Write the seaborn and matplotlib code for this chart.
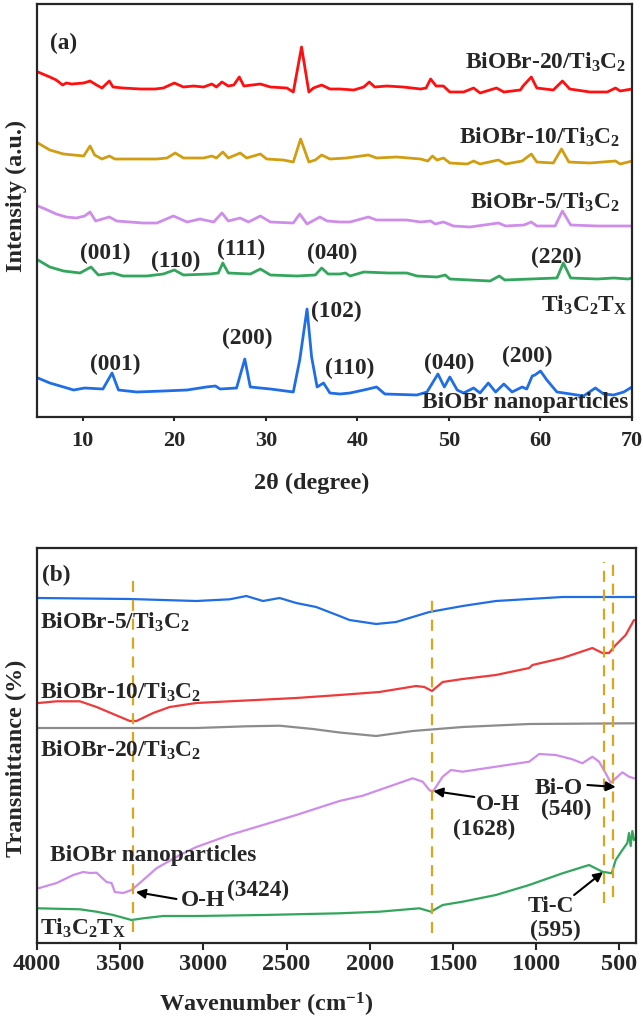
import matplotlib
matplotlib.use("Agg")
import numpy as np
import pandas as pd
import seaborn as sns
import matplotlib.pyplot as plt

# ---------------- XRD data (2theta in degree, intensity in a.u.) ----------------
xrd20_x = [5.1, 6.4, 7.1, 7.8, 8.2, 8.8, 10.1, 10.8, 11.5, 12.1, 12.9, 13.3, 14.4, 16.3, 17.9, 18.8,
           20.0, 21.0, 22.1, 23.2, 24.1, 24.6, 25.2, 25.9, 26.5, 27.1, 27.6, 29.4, 30.5, 32.3, 33.0,
           33.9, 34.7, 35.2, 36.1, 37.0, 38.1, 39.6, 40.7, 41.3, 41.9, 43.2, 45.0, 46.9, 47.5, 48.0,
           48.6, 49.4, 50.1, 51.6, 52.7, 53.4, 55.2, 56.0, 57.8, 58.1, 59.0, 59.6, 61.4, 62.4, 63.2,
           65.4, 67.3, 68.2, 68.7, 70.0]
xrd20_y = [345, 340, 337, 332, 334, 333, 334, 336, 332, 329, 336, 330, 329, 328, 328, 329,
           334, 330, 331, 330, 333, 330, 335, 331, 332, 340, 331, 333, 330, 329, 325,
           370, 325, 329, 332, 328, 328, 327, 330, 335, 330, 331, 330, 328, 329, 338,
           331, 331, 325, 325, 329, 324, 329, 325, 327, 331, 340, 329, 327, 336, 328,
           325, 325, 329, 326, 328]

xrd10_x = [5.1, 6.4, 7.9, 10.1, 10.8, 11.3, 12.1, 12.9, 13.5, 15.2, 18.1, 19.2, 20.1, 21.0, 23.2,
           24.1, 24.6, 25.3, 25.9, 27.2, 27.9, 29.4, 30.1, 31.9, 33.0, 33.8, 34.7, 35.4, 36.1, 37.0,
           38.8, 41.2, 42.1, 44.3, 46.9, 47.7, 48.2, 48.7, 49.4, 50.1, 52.0, 52.7, 53.4, 55.4, 56.2,
           58.0, 59.0, 59.6, 61.4, 62.3, 63.1, 65.4, 68.2, 68.7, 69.6, 70.0]
xrd10_y = [274, 267, 263, 261, 271, 262, 258, 261, 258, 258, 258, 259, 264, 259, 259,
           261, 259, 265, 259, 264, 259, 263, 258, 257, 255, 278, 255, 257, 262, 258,
           259, 262, 259, 260, 258, 256, 261, 257, 259, 254, 253, 256, 253, 257, 253,
           256, 263, 255, 254, 268, 255, 254, 256, 253, 255, 256]

xrd5_x = [5.1, 5.9, 7.1, 8.2, 9.3, 10.2, 10.8, 11.4, 12.9, 13.7, 16.6, 18.1, 19.9, 21.4, 22.8,
          24.3, 25.2, 25.9, 27.2, 28.1, 29.4, 30.5, 33.0, 33.7, 34.5, 35.9, 36.7, 38.1, 39.2, 41.2,
          42.1, 45.4, 46.9, 48.0, 48.5, 49.4, 50.5, 52.3, 55.4, 56.2, 58.2, 59.0, 59.6, 61.6, 62.4,
          63.3, 66.2, 69.6, 70.0]
xrd5_y = [211, 208, 203, 200, 199, 201, 205, 196, 200, 196, 194, 194, 201, 195, 198,
          195, 204, 196, 199, 195, 201, 195, 194, 203, 193, 200, 196, 195, 195, 200,
          197, 197, 195, 196, 193, 195, 191, 190, 194, 191, 192, 195, 191, 191, 206,
          192, 191, 191, 191]

xrdti_x = [5.1, 6.4, 7.9, 9.7, 10.9, 11.7, 13.3, 14.4, 17.0, 18.8, 20.0, 21.0, 23.9, 24.8, 25.3,
           25.9, 28.3, 29.4, 30.5, 33.4, 35.4, 36.1, 36.8, 38.1, 38.7, 39.2, 40.7, 43.4, 45.4, 46.5,
           48.7, 49.6, 50.1, 54.5, 55.5, 56.1, 61.8, 62.5, 63.3, 66.2, 68.0, 69.6, 70.0]
xrdti_y = [157, 150, 146, 144, 150, 142, 144, 141, 141, 143, 147, 142, 143, 144, 154,
           144, 143, 148, 142, 141, 142, 149, 143, 143, 144, 141, 145, 144, 144, 141,
           140, 142, 138, 136, 141, 137, 139, 154, 139, 138, 139, 138, 139]

xrdbi_x = [5.1, 6.4, 7.9, 9.0, 10.2, 12.2, 13.2, 13.9, 15.9, 18.8, 21.4, 23.5, 24.5, 25.0, 26.8,
           27.7, 28.3, 30.5, 33.0, 33.7, 34.5, 35.0, 35.6, 36.3, 37.0, 38.1, 39.2, 40.7, 42.1, 43.0,
           46.5, 47.6, 48.8, 49.5, 50.1, 50.9, 51.6, 52.7, 53.4, 54.3, 55.1, 56.0, 56.9, 58.0, 58.5,
           59.1, 59.4, 60.0, 60.7, 61.8, 63.3, 64.7, 66.0, 66.9, 68.0, 69.1, 70.0]
xrdbi_y = [39, 34, 30, 27, 29, 28, 44, 27, 25, 26, 27, 30, 31, 28, 29,
           58, 30, 28, 25, 57, 108, 60, 30, 34, 24, 23, 24, 27, 30, 23,
           22, 25, 43, 30, 40, 27, 24, 29, 24, 34, 25, 33, 25, 30, 28,
           41, 42, 46, 37, 25, 23, 21, 29, 23, 22, 25, 30]

xrd_names = ["BiOBr-20/Ti$_3$C$_2$", "BiOBr-10/Ti$_3$C$_2$", "BiOBr-5/Ti$_3$C$_2$",
             "Ti$_3$C$_2$T$_X$", "BiOBr nanoparticles"]
xrd_colors = ["#FF1010", "#D19E12", "#CF8DEA", "#32A65C", "#1F6EE6"]
xrd_xs = [xrd20_x, xrd10_x, xrd5_x, xrdti_x, xrdbi_x]
xrd_ys = [xrd20_y, xrd10_y, xrd5_y, xrdti_y, xrdbi_y]
xrd_label_pos = [(69.4, 355), (68.7, 280), (68.7, 215), (69.5, 112), (69.6, 14)]

# peak index labels
hkl_text = ["(001)", "(110)", "(111)", "(040)", "(220)",
            "(001)", "(200)", "(102)", "(110)", "(040)", "(200)"]
hkl_x = [12.5, 20.1, 27.3, 37.2, 61.7, 13.5, 28.0, 37.7, 39.2, 50.0, 58.6]
hkl_y = [164, 156, 168, 164, 160, 53, 79, 106, 49, 54, 61]

xrd_ticks = [10, 20, 30, 40, 50, 60, 70]

# ---------------- FTIR data (wavenumber cm-1, transmittance a.u.) ----------------
ir5_x = [3992, 3442, 3042, 2842, 2742, 2642, 2542, 2442, 2322, 2182, 2122, 1962, 1842, 1642,
         1442, 1242, 1042, 842, 642, 412]
ir5_y = [345, 344, 342, 343.7, 347, 342, 345, 340, 336, 327, 323, 319, 321, 331,
         337, 342, 344, 346, 346, 346]

ir10_x = [3992, 3882, 3742, 3642, 3542, 3442, 3402, 3302, 3202, 3042, 2842, 2442, 2182, 1942,
          1722, 1672, 1626, 1562, 1442, 1242, 1042, 1022, 842, 662, 602, 562, 522, 462, 412]
ir10_y = [240, 241.7, 241.7, 236, 229, 222, 222, 230, 236, 240, 241.7, 245, 248, 251,
          257, 256, 252, 261, 264, 268, 275, 278, 285, 295, 290, 290, 298, 308, 323]

ir20_x = [3992, 3442, 3042, 2742, 2542, 2342, 2182, 1962, 1742, 1442, 1042, 412]
ir20_y = [215, 215, 215, 216.7, 217.3, 214, 210.5, 207, 212, 216, 219, 219.7]

irbi_x = [3992, 3882, 3782, 3722, 3682, 3642, 3582, 3552, 3532, 3482, 3432, 3382, 3282, 3142,
          3042, 2842, 2442, 2182, 2042, 1742, 1682, 1642, 1622, 1562, 1512, 1442, 1242, 1042,
          982, 882, 782, 722, 662, 622, 582, 552, 522, 482, 442, 412]
irbi_y = [54.7, 60, 68, 71, 70, 70.3, 61, 60, 51, 50, 53, 60, 74.7, 88,
          96, 108, 128, 142, 147.3, 164.7, 161.3, 153, 151, 166.3, 173, 171.3, 176.3, 181.3,
          189, 188, 183.7, 179.7, 186.3, 181.3, 169.7, 160.3, 164.7, 170.7, 166.3, 164.7]

irti_x = [3992, 3742, 3642, 3542, 3432, 3362, 3242, 3042, 2642, 2182, 1942, 1702, 1632, 1562,
          1442, 1242, 1042, 842, 682, 602, 546, 522, 482, 452, 442, 432, 422, 412]
irti_y = [34.7, 33.7, 31.3, 28, 23, 24.7, 27, 27, 28, 29.7, 31.3, 34.7, 31.3, 38,
          41.3, 48, 58, 69.7, 78, 71.3, 69.7, 83, 93, 100, 110, 97, 112, 103]

ir_names = ["BiOBr-5/Ti$_3$C$_2$", "BiOBr-10/Ti$_3$C$_2$", "BiOBr-20/Ti$_3$C$_2$",
            "BiOBr nanoparticles", "Ti$_3$C$_2$T$_X$"]
ir_colors = ["#1F6EE6", "#EE3A3A", "#8C8C8C", "#CF8DEA", "#32A65C"]
ir_xs = [ir5_x, ir10_x, ir20_x, irbi_x, irti_x]
ir_ys = [ir5_y, ir10_y, ir20_y, irbi_y, irti_y]
ir_label_pos = [(3982, 321), (3982, 251), (3982, 193), (3922, 88), (3982, 15)]

band_x = [3424, 1628, 595, 540]
band_y0 = [11, 10, 40, 46]
band_y1 = [363, 345, 381, 385]

ir_ticks = [4000, 3500, 3000, 2500, 2000, 1500, 1000, 500]

# ---------------- style ----------------
sns.set_style("ticks")
plt.rcParams["font.family"] = ["Liberation Serif", "DejaVu Serif"]
plt.rcParams["font.weight"] = "bold"
plt.rcParams["mathtext.fontset"] = "custom"
plt.rcParams["mathtext.rm"] = "Liberation Serif:bold"
plt.rcParams["mathtext.bf"] = "Liberation Serif:bold"
plt.rcParams["mathtext.it"] = "Liberation Serif:bold:italic"
plt.rcParams["mathtext.default"] = "rm"
plt.rcParams["axes.linewidth"] = 1.6

fig = plt.figure(figsize=(6.43, 10.19), dpi=100)
ax1 = fig.add_axes([37 / 643, 1 - 417 / 1019, 595 / 643, 413 / 1019])
ax2 = fig.add_axes([37 / 643, 1 - 943 / 1019, 599 / 643, 395 / 1019])

FS_ANN = 16.8

# ---- XRD panel ----
for name, c, xs, ys, pos in zip(xrd_names, xrd_colors, xrd_xs, xrd_ys, xrd_label_pos):
    df = pd.DataFrame({"x": xs, "y": ys})
    sns.lineplot(data=df, x="x", y="y", ax=ax1, color=c, lw=2.0, estimator=None, sort=False)
    ax1.text(pos[0], pos[1], name, ha="right", va="center", fontsize=FS_ANN, fontweight="bold")

for t, x, y in zip(hkl_text, hkl_x, hkl_y):
    ax1.text(x, y, t, ha="center", va="center", fontsize=FS_ANN, fontweight="bold")

ax1.text(6.4, 374, "(a)", ha="left", va="center", fontsize=FS_ANN, fontweight="bold")
ax1.set_xlim(5, 70)
ax1.set_ylim(0, 413)
ax1.set_xticks(xrd_ticks)
ax1.set_yticks([])
ax1.set_xlabel("")
ax1.set_ylabel("")
ax1.tick_params(axis="x", direction="out", length=3, width=1.5, labelsize=16, pad=7)
for lab in ax1.get_xticklabels():
    lab.set_fontweight("bold")
for s in ax1.spines.values():
    s.set_visible(True)
    s.set_linewidth(1.6)

# ---- FTIR panel ----
for name, c, xs, ys, pos in zip(ir_names, ir_colors, ir_xs, ir_ys, ir_label_pos):
    df = pd.DataFrame({"x": xs, "y": ys})
    sns.lineplot(data=df, x="x", y="y", ax=ax2, color=c, lw=1.6, estimator=None, sort=False)
    ax2.text(pos[0], pos[1], name, ha="left", va="center", fontsize=FS_ANN, fontweight="bold")

for bx, y0, y1 in zip(band_x, band_y0, band_y1):
    ax2.plot([bx, bx], [y0, y1], color="#DAA520", lw=1.6, dashes=(5, 3.5))

arrow_kw = dict(arrowstyle="-|>", color="black", lw=1.5, mutation_scale=14, shrinkA=0, shrinkB=0)
ax2.annotate("", xy=(3406, 51), xytext=(3162, 44), arrowprops=arrow_kw)
ax2.annotate("", xy=(1618, 152), xytext=(1372, 146), arrowprops=arrow_kw)
ax2.annotate("", xy=(522, 156), xytext=(692, 158), arrowprops=arrow_kw)
ax2.annotate("", xy=(598, 71), xytext=(772, 48), arrowprops=arrow_kw)

ax2.text(3002, 43, "O-H", ha="center", va="center", fontsize=FS_ANN, fontweight="bold")
ax2.text(2672, 53, "(3424)", ha="center", va="center", fontsize=FS_ANN, fontweight="bold")
ax2.text(1232, 139, "O-H", ha="center", va="center", fontsize=FS_ANN, fontweight="bold")
ax2.text(1310, 114, "(1628)", ha="center", va="center", fontsize=FS_ANN, fontweight="bold")
ax2.text(862, 155, "Bi-O", ha="center", va="center", fontsize=FS_ANN, fontweight="bold")
ax2.text(822, 134, "(540)", ha="center", va="center", fontsize=FS_ANN, fontweight="bold")
ax2.text(912, 36, "Ti-C", ha="center", va="center", fontsize=FS_ANN, fontweight="bold")
ax2.text(882, 13, "(595)", ha="center", va="center", fontsize=FS_ANN, fontweight="bold")
ax2.text(3972, 368, "(b)", ha="left", va="center", fontsize=FS_ANN, fontweight="bold")

ax2.set_xlim(4000, 400)
ax2.set_ylim(0, 395)
ax2.set_xticks(ir_ticks)
ax2.set_yticks([])
ax2.set_xlabel("")
ax2.set_ylabel("")
ax2.tick_params(axis="x", direction="out", length=5, width=1.5, labelsize=17.5, pad=3)
for lab in ax2.get_xticklabels():
    lab.set_fontweight("bold")
for s in ax2.spines.values():
    s.set_visible(True)
    s.set_linewidth(1.6)

# ---- axis titles ----
fig.text(312 / 643, 1 - 483 / 1019, "2θ (degree)", ha="center", va="center", fontsize=17.5, fontweight="bold")
fig.text(266 / 643, 1 - 1005 / 1019, "Wavenumber (cm$^{-1}$)", ha="center", va="center", fontsize=17.5, fontweight="bold")
fig.text(16 / 643, 1 - 196 / 1019, "Intensity (a.u.)", ha="center", va="center", rotation=90, fontsize=17.5, fontweight="bold")
fig.text(16 / 643, 1 - 758 / 1019, "Transmittance (%)", ha="center", va="center", rotation=90, fontsize=17.5, fontweight="bold")

fig.savefig("out.png", dpi=100)
